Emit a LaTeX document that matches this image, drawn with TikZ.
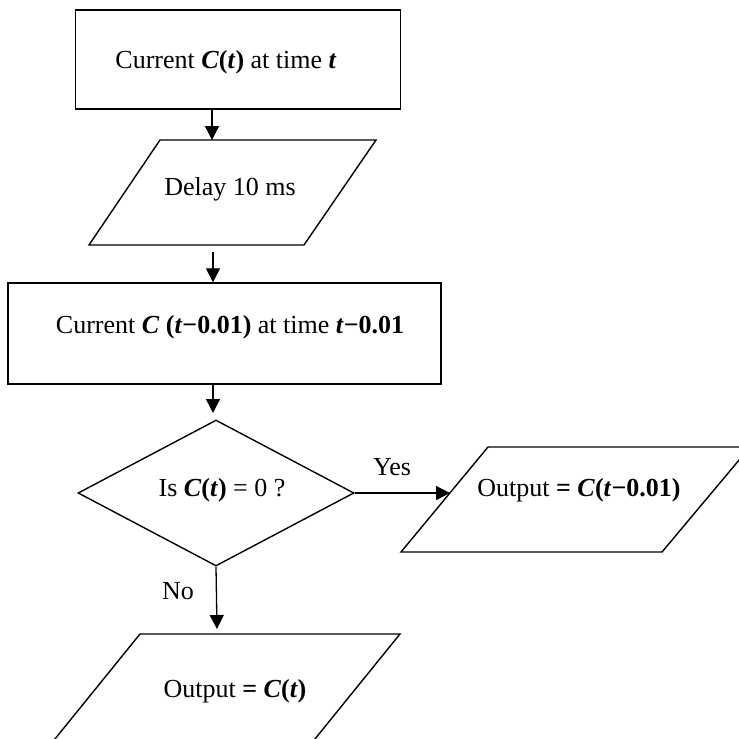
\documentclass[tikz,border=0pt]{standalone}
\usepackage{fontspec}
\setmainfont{Liberation Serif}
\usetikzlibrary{arrows.meta,shapes.geometric}
\newcommand\bfit[1]{\textbf{\textit{#1}}}
\begin{document}
\begin{tikzpicture}[x=1pt,y=-1pt,
  shapebox/.style={draw, line width=1.4pt, inner sep=0pt},
  outline/.style={draw, line width=1.4pt, line join=miter},
  lbl/.style={font=\fontsize{26}{30}\selectfont, inner sep=0pt, anchor=base},
  conn/.style={-{Triangle[length=14pt,width=14pt]}, line width=1.3pt}]
\clip (0,0) rectangle (739,739);
% box 1
\node[shapebox, minimum width=325pt, minimum height=99pt] (b1) at (238,59.5) {};
\node[lbl] (t1) at (226,68) {Current \bfit{C}\textbf{(}\bfit{t}\textbf{)} at time \bfit{t}};
% parallelogram 1
\draw[outline] (160,140) -- (376,140) -- (304,245) -- (89,245) -- cycle;
\coordinate (p1in) at (212,140);
\coordinate (p1out) at (213,252);
\node[lbl] (t2) at (230,195) {Delay 10 ms};
% box 3
\node[shapebox, minimum width=433pt, minimum height=101pt] (b3) at (224.5,333.5) {};
\node[lbl] (t3) at (230,333) {Current \bfit{C} \textbf{(}\bfit{t}\textbf{\char"2212 0.01)} at time \bfit{t}\textbf{\char"2212 0.01}};
\coordinate (a3end) at (213,413);
% decision
\node[shapebox, diamond, minimum width=276pt, minimum height=146pt] (d) at (216,493) {};
\node[lbl] (t4) at (222,496) {Is \bfit{C}\textbf{(}\bfit{t}\textbf{)} = 0 ?};
% output right
\draw[outline] (488,447) -- (750,447) -- (662,552) -- (401,552) -- cycle;
\coordinate (p2in) at (450,493);
\node[lbl] (t5) at (579,496) {Output \textbf{=} \bfit{C}\textbf{(}\bfit{t}\textbf{\char"2212 0.01)}};
% output bottom
\draw[outline] (140,634) -- (400,634) -- (312.5,742) -- (52.5,742) -- cycle;
\coordinate (p3in) at (217,629);
\node[lbl] (t6) at (235,697) {Output \textbf{=} \bfit{C}\textbf{(}\bfit{t}\textbf{)}};
% labels
\node[lbl] (yes) at (392,475) {Yes};
\node[lbl] (no) at (178,599) {No};
% connectors
\draw[conn] (b1.south -| p1in) -- (p1in);
\draw[conn] (p1out) -- (b3.north -| p1out);
\draw[conn] (b3.south -| a3end) -- (a3end);
\draw[conn] (d.east) -- (p2in);
\draw[conn] (d.south) -- (p3in);
\end{tikzpicture}
\end{document}
